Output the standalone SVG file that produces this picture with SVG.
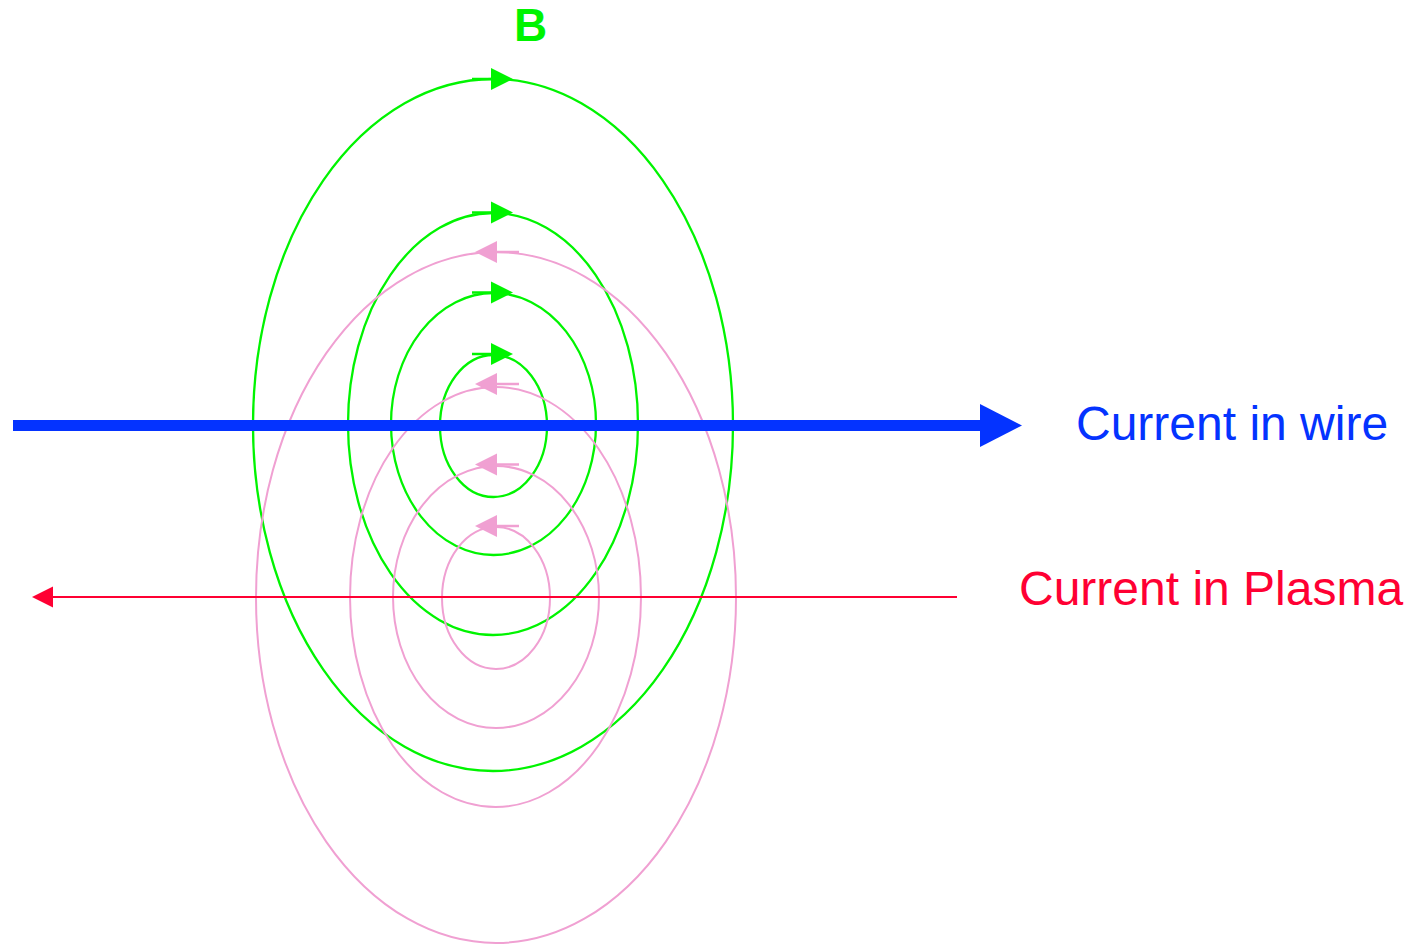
<svg xmlns="http://www.w3.org/2000/svg" width="1422" height="944" viewBox="0 0 1422 944">
<style>
.g{fill:none;stroke:#00F400;stroke-width:2.3}
.p{fill:none;stroke:#F0A0D2;stroke-width:2}
.ga{stroke:#00F400;stroke-width:2.5;marker-end:url(#mg)}
.pa{stroke:#F0A0D2;stroke-width:2.5;marker-end:url(#mp)}
.lbl{font-family:"Liberation Sans",Arial,sans-serif;font-size:48px}
</style>
<defs>
<marker id="mg" markerUnits="userSpaceOnUse" markerWidth="23" markerHeight="23" refX="0" refY="11.5" orient="auto" viewBox="0 0 23 23"><path d="M0,0.5 L22,11.5 L0,22.5Z" fill="#00F400"/></marker>
<marker id="mp" markerUnits="userSpaceOnUse" markerWidth="23" markerHeight="23" refX="0" refY="11.5" orient="auto" viewBox="0 0 23 23"><path d="M0,0.5 L22,11.5 L0,22.5Z" fill="#F0A0D2"/></marker>
<marker id="mb" markerUnits="userSpaceOnUse" markerWidth="44" markerHeight="44" refX="0" refY="22" orient="auto" viewBox="0 0 44 44"><path d="M0,0.5 L42,22 L0,43.5Z" fill="#0433FF"/></marker>
<marker id="mr" markerUnits="userSpaceOnUse" markerWidth="22" markerHeight="22" refX="0" refY="11" orient="auto" viewBox="0 0 22 22"><path d="M0,0.5 L21,11 L0,21.5Z" fill="#FF0033"/></marker>
</defs>
<rect width="1422" height="944" fill="#fff"/>
<g id="field-wire">
<ellipse class="g" cx="493" cy="425" rx="240" ry="346"/>
<ellipse class="g" cx="493" cy="424" rx="145" ry="211"/>
<ellipse class="g" cx="493.5" cy="424" rx="102.5" ry="131"/>
<ellipse class="g" cx="493.5" cy="426" rx="53.5" ry="71"/>
</g>
<g id="field-plasma">
<ellipse class="p" cx="496" cy="597.5" rx="240" ry="345.5"/>
<ellipse class="p" cx="495.5" cy="597" rx="145.5" ry="210"/>
<ellipse class="p" cx="496" cy="597" rx="103" ry="131"/>
<ellipse class="p" cx="496" cy="598" rx="54" ry="71"/>
</g>
<g id="connectors">
<line class="ga" x1="472" y1="79" x2="491" y2="79"/>
<line class="ga" x1="472" y1="212.5" x2="491" y2="212.5"/>
<line class="ga" x1="472" y1="292.5" x2="491" y2="292.5"/>
<line class="ga" x1="472" y1="354" x2="491" y2="354"/>
<line class="pa" x1="519" y1="252" x2="497" y2="252"/>
<line class="pa" x1="519" y1="384" x2="497" y2="384"/>
<line class="pa" x1="519" y1="464.5" x2="497" y2="464.5"/>
<line class="pa" x1="519" y1="526" x2="497" y2="526"/>
<line x1="13" y1="425.5" x2="980" y2="425.5" stroke="#0433FF" stroke-width="11" marker-end="url(#mb)"/>
<line x1="957" y1="597" x2="53" y2="597" stroke="#FF0033" stroke-width="2" marker-end="url(#mr)"/>
</g>
<g id="label-B"><text x="530.5" y="41" text-anchor="middle" font-family="Liberation Sans, Arial, sans-serif" font-weight="bold" font-size="46" fill="#00F400">B</text></g>
<g id="label-wire"><text class="lbl" x="1076" y="440" fill="#0433FF">Current in wire</text></g>
<g id="label-plasma"><text class="lbl" x="1019" y="605" fill="#FF0033">Current in Plasma</text></g>
</svg>
